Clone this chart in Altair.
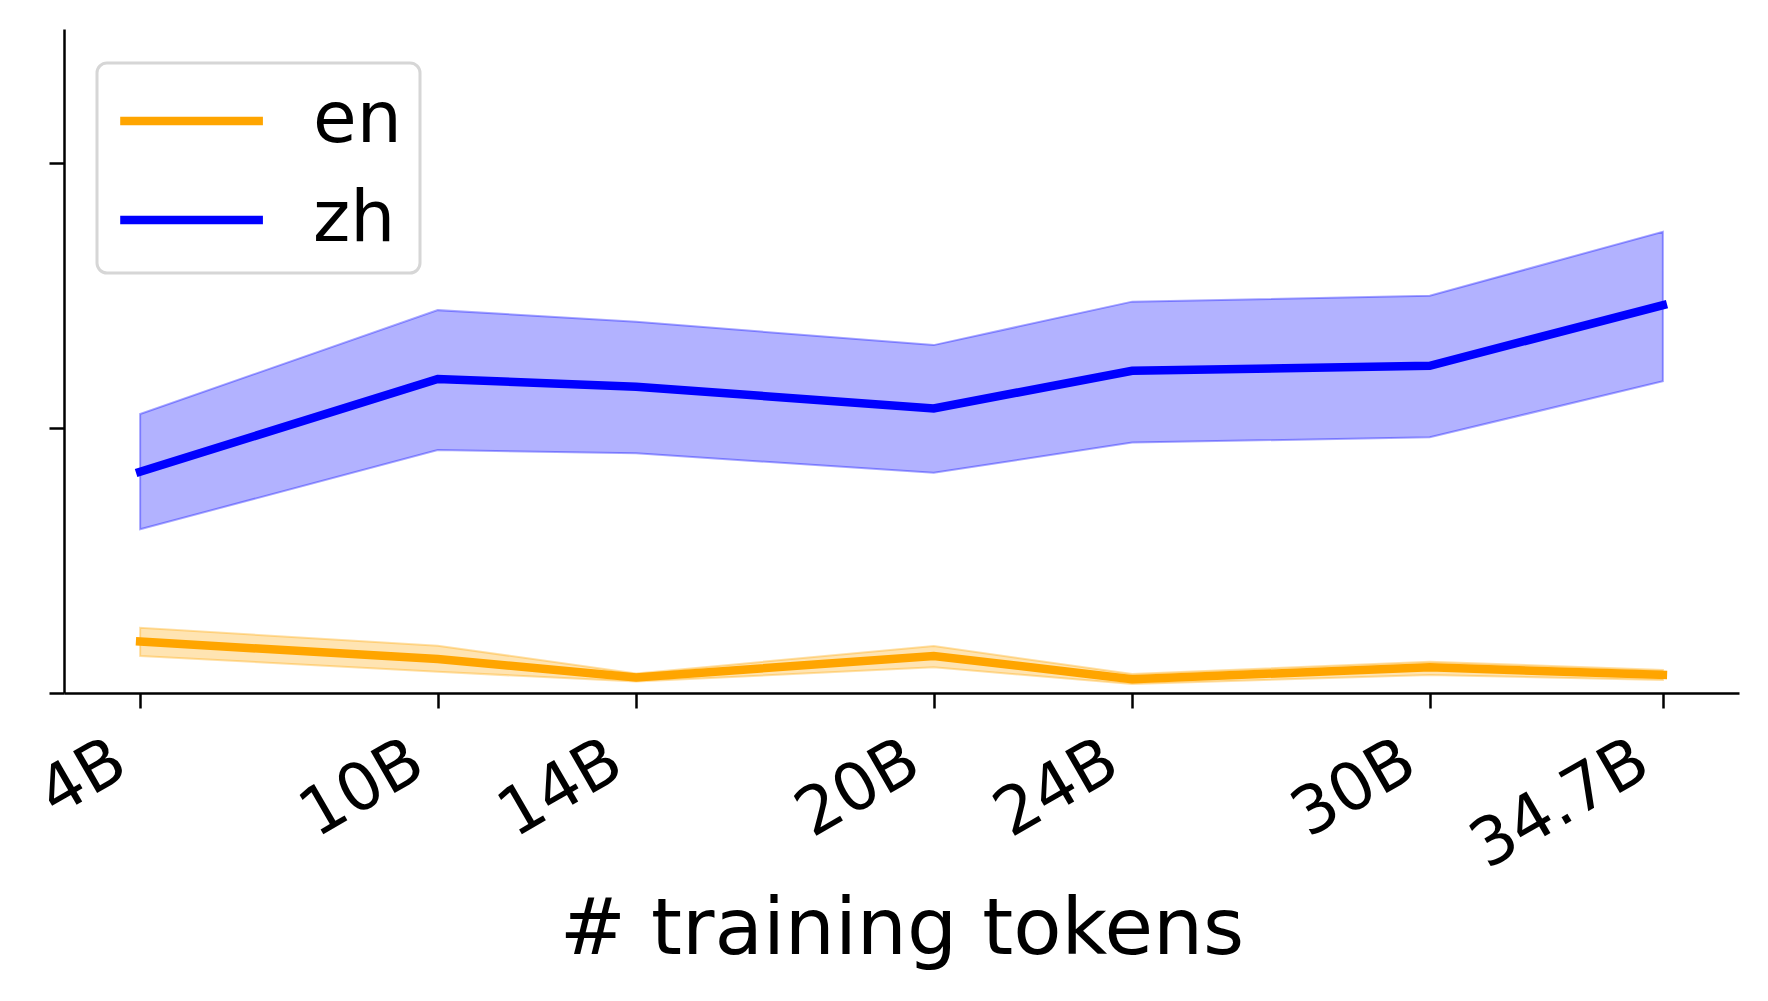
import altair as alt
import pandas as pd

# ---- data ----
x_tokens = [4, 10, 14, 20, 24, 30, 34.7]
tick_labels = ["4B", "10B", "14B", "20B", "24B", "30B", "34.7B"]
langs = ["en", "zh"]
colors = ["#ffa500", "#0000ff"]

zh_mean = [8.35, 11.85, 11.56, 10.74, 12.16, 12.35, 14.64]
zh_lo = [6.18, 9.17, 9.05, 8.31, 9.45, 9.65, 11.77]
zh_hi = [10.53, 14.45, 14.01, 13.13, 14.77, 14.99, 17.41]

en_mean = [1.94, 1.28, 0.59, 1.40, 0.52, 0.97, 0.68]
en_lo = [1.40, 0.80, 0.43, 0.97, 0.34, 0.68, 0.49]
en_hi = [2.46, 1.78, 0.74, 1.77, 0.72, 1.18, 0.87]

y_ticks = [0, 10, 20]

rows = []
for lang, m, lo, hi in [("en", en_mean, en_lo, en_hi), ("zh", zh_mean, zh_lo, zh_hi)]:
    for x, a, b, c in zip(x_tokens, m, lo, hi):
        rows.append({"lang": lang, "tokens": x, "mean": a, "lo": b, "hi": c})
df = pd.DataFrame(rows)

label_expr = " : ".join(
    f"datum.value == {v} ? '{t}'" for v, t in zip(x_tokens, tick_labels)
) + " : ''"

FONT = "DejaVu Sans"

x_axis = alt.Axis(
    values=x_tokens, labelExpr=label_expr, title="# training tokens",
    labelAngle=-30, labelAlign="right", labelBaseline="top",
    labelFontSize=66, labelFont=FONT, labelColor="black", labelLimit=1000,
    labelOffset=-36, labelPadding=20, labelOverlap=False, labelFlush=False,
    tickSize=15, tickWidth=2.5, tickColor="black",
    domainWidth=2.5, domainColor="black", grid=False,
    titleFontSize=79, titleFont=FONT, titleFontWeight="normal", titleColor="black",
    titleY=260, titleBaseline="alphabetic",
)
y_axis = alt.Axis(
    values=y_ticks, labels=False, title=None,
    tickSize=15, tickWidth=2.5, tickColor="black",
    domainWidth=2.5, domainColor="black", grid=False,
)

x_enc = alt.X("tokens:Q", scale=alt.Scale(domain=[2.465, 36.235], nice=False, zero=False), axis=x_axis)
y_scale = alt.Scale(domain=[0, 25.06], nice=False, zero=False)

base = alt.Chart(df)


def band(lang, col):
    return base.transform_filter(alt.datum.lang == lang).mark_area(
        color=col, fillOpacity=0.3, strokeOpacity=0.35, strokeWidth=2, stroke=col
    ).encode(
        x=x_enc,
        y=alt.Y("lo:Q", scale=y_scale, axis=y_axis),
        y2="hi:Q",
    )


bands = [band(l, c) for l, c in zip(langs, colors)]

lines = base.mark_line(strokeWidth=8.5, strokeCap="square").encode(
    x=x_enc,
    y=alt.Y("mean:Q", scale=y_scale, axis=y_axis),
    color=alt.Color(
        "lang:N",
        scale=alt.Scale(domain=langs, range=colors),
        legend=alt.Legend(
            title=None, orient="none", legendX=33, legendY=34,
            symbolType="M-0.98,0H3.04", symbolSize=5041, symbolStrokeWidth=8.5,
            symbolFillColor="transparent",
            labelFontSize=71, labelFont=FONT, labelColor="black",
            labelOffset=118, padding=18, rowPadding=24,
            strokeColor="#d6d6d6", cornerRadius=10, fillColor="white",
        ),
    ),
)

chart = alt.layer(*bands, lines).properties(
    width=1675, height=664,
    autosize=alt.AutoSizeParams(type="none"),
    padding={"left": 56, "top": 21, "right": 21, "bottom": 295},
    background="white",
).configure_view(stroke=None)

try:
    chart.configure_legend(strokeWidth=3).save(
        "out.html", embed_options={"renderer": "svg", "actions": False})
except Exception:
    chart.save("out.html", embed_options={"renderer": "svg", "actions": False})
